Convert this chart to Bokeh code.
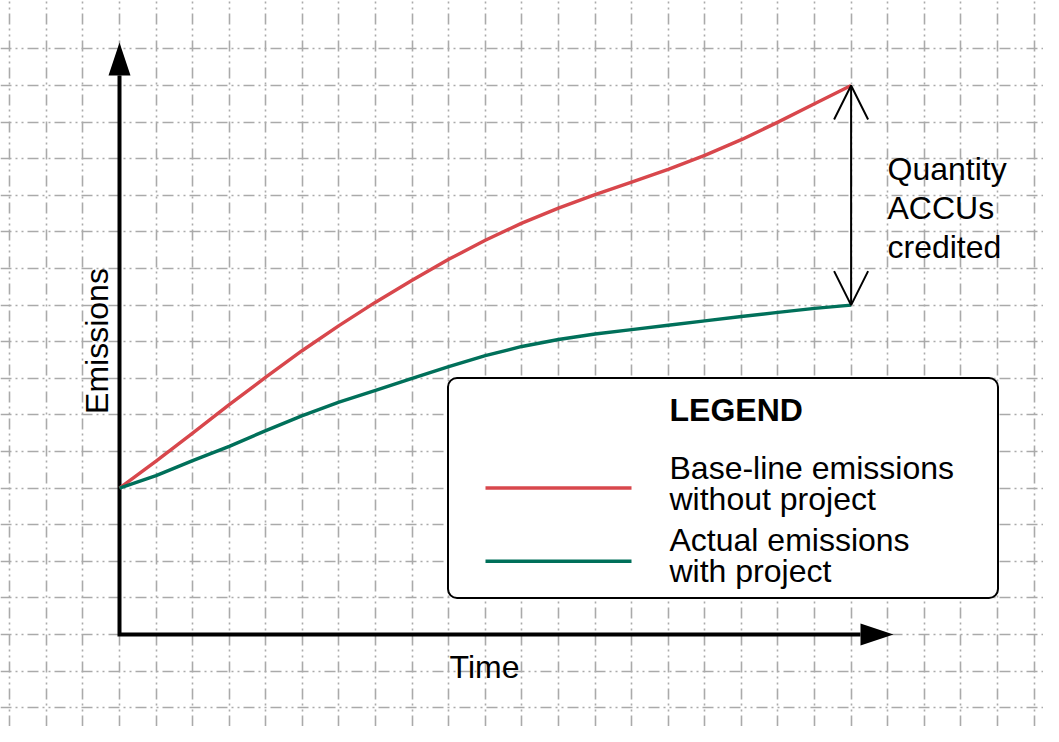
import math
from bokeh.plotting import figure
from bokeh.models import Range1d, Grid, FixedTicker, BoxAnnotation, Arrow, OpenHead, Label
from bokeh.embed import file_html
from bokeh.resources import INLINE

# ---------------- data ----------------
time = list(range(21))
baseline = [4.0, 4.74, 5.50, 6.28, 7.03, 7.76, 8.44, 9.08, 9.68, 10.25, 10.77,
            11.24, 11.65, 12.02, 12.36, 12.71, 13.09, 13.52, 14.0, 14.5, 15.0]
actual = [4.0, 4.34, 4.75, 5.14, 5.57, 5.98, 6.35, 6.67, 7.0, 7.32, 7.62,
          7.87, 8.06, 8.21, 8.33, 8.45, 8.57, 8.69, 8.80, 8.91, 9.0]
series_names = ["Base-line emissions\nwithout project", "Actual emissions\nwith project"]
legend_title = "LEGEND"
annotation_lines = ["Quantity", "ACCUs", "credited"]
x_label = "Time"
y_label = "Emissions"
grid_x = list(range(-3, 26))
grid_y = list(range(-2, 17))

# ---------------- layout helpers ----------------
W, H = 1043, 726
OX, OY = 119.0, 634.0      # pixel of the data origin
SX, SY = 36.58, 36.6       # pixels per data unit
TXT_SHIFT = 11             # baseline correction, px


def dx(px):
    return (px - OX) / SX


def dy(py):
    return (OY - py) / SY


RED = "#d8474c"
GREEN = "#00705a"
FONT = "Liberation Sans"

p = figure(width=W, height=H,
           x_range=Range1d(dx(0), dx(W)), y_range=Range1d(dy(H), dy(0)),
           x_axis_type=None, y_axis_type=None,
           toolbar_location=None, output_backend="svg",
           min_border=0, outline_line_color=None)
p.background_fill_color = "white"
p.border_fill_color = "white"

for dim, ticks in ((0, grid_x), (1, grid_y)):
    p.add_layout(Grid(dimension=dim, ticker=FixedTicker(ticks=ticks),
                      grid_line_color="#aaaaaa", grid_line_width=1.6,
                      grid_line_dash="11 4 2 4 2 4"))

# legend box (under glyphs, over grid)
p.add_layout(BoxAnnotation(left=dx(447.5), right=dx(997.5), top=dy(377.5), bottom=dy(597.5),
                           fill_color="white", fill_alpha=1.0, line_color="black",
                           line_alpha=1.0, line_width=2, border_radius=9, level="underlay"))

# axes with arrow heads
head_len, head_half = 33, 11
y_tip, x_tip = dy(42), dx(893)
p.line([0, 0, x_tip - head_len / SX], [y_tip - head_len / SY, 0, 0],
       line_width=4, color="black", line_join="miter")
p.patch([-head_half / SX, 0, head_half / SX],
        [y_tip - head_len / SY, y_tip, y_tip - head_len / SY], color="black", line_width=0)
p.patch([x_tip - head_len / SX, x_tip, x_tip - head_len / SX],
        [head_half / SY, 0, -head_half / SY], color="black", line_width=0)

# emission curves
p.line(time, baseline, line_width=3.4, color=RED, line_join="round")
p.line(time, actual, line_width=3.4, color=GREEN, line_join="round")

# double arrow for credited quantity
p.add_layout(Arrow(x_start=time[-1], y_start=actual[-1], x_end=time[-1], y_end=baseline[-1],
                   line_width=2, line_color="black",
                   start=OpenHead(size=34, line_width=2, line_color="black"),
                   end=OpenHead(size=34, line_width=2, line_color="black")))


def label(xp, yp, text, **kw):
    opts = dict(text_font=FONT, text_font_size="32px", text_color="black",
                text_baseline="alphabetic")
    opts.update(kw)
    p.add_layout(Label(x=dx(xp), y=dy(yp), text=text, **opts))


for i, t in enumerate(annotation_lines):
    label(887, 179.3 - TXT_SHIFT + i * 39.2, t)

label(107 - TXT_SHIFT, 340.5, y_label, angle=math.pi / 2, text_align="center")
label(484, 677 - TXT_SHIFT, x_label, text_align="center")

# legend contents
label(669, 420.7 - TXT_SHIFT, legend_title, text_font_style="bold")
sample_y = [487.5, 560.7]
text_y = [478.3, 550.7]
for name, col, sy, ty in zip(series_names, [RED, GREEN], sample_y, text_y):
    p.line([dx(485), dx(631)], [dy(sy), dy(sy)], line_width=3.5, color=col)
    for j, part in enumerate(name.split("\n")):
        label(669, ty - TXT_SHIFT + j * 30.8, part)

open("out.html", "w").write(file_html(p, INLINE))
